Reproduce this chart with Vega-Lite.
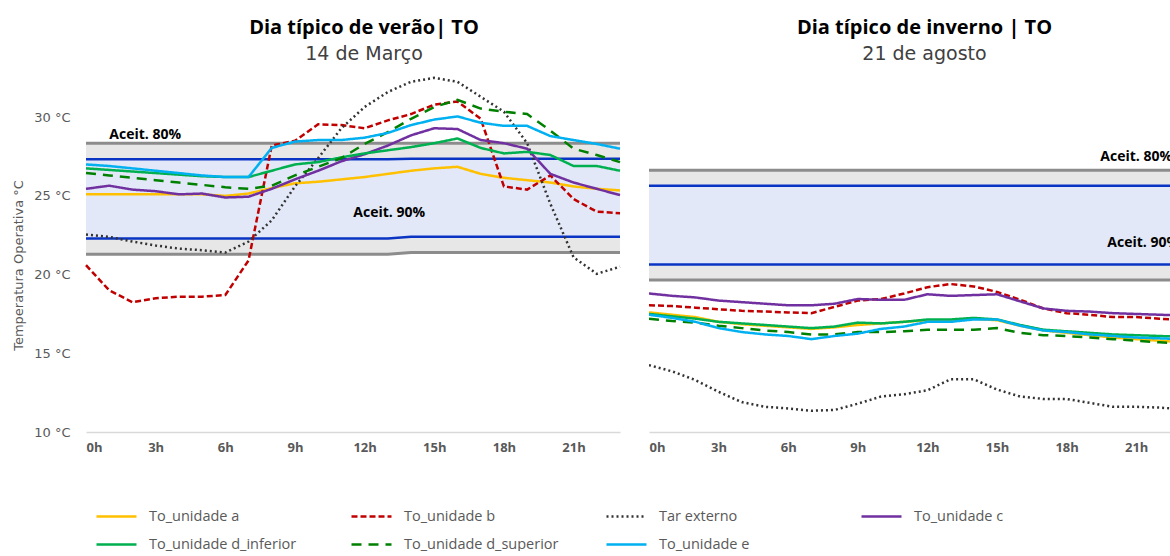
{
  "$schema": "https://vega.github.io/schema/vega-lite/v6.json",
  "background": "white",
  "padding": {"left": 12, "top": 18, "right": 0, "bottom": 0},
  "spacing": 23,
  "datasets": {
    "series": [
      {"p":"v","h":0,"a":25.1,"b":20.6,"tar":22.55,"c":25.45,"di":26.75,"ds":26.45,"e":27.0},
      {"p":"v","h":1,"a":25.1,"b":19.0,"tar":22.4,"c":25.65,"di":26.65,"ds":26.3,"e":26.9},
      {"p":"v","h":2,"a":25.1,"b":18.25,"tar":22.1,"c":25.4,"di":26.55,"ds":26.15,"e":26.75},
      {"p":"v","h":3,"a":25.1,"b":18.5,"tar":21.85,"c":25.3,"di":26.45,"ds":26.0,"e":26.6},
      {"p":"v","h":4,"a":25.1,"b":18.6,"tar":21.65,"c":25.1,"di":26.35,"ds":25.85,"e":26.45},
      {"p":"v","h":5,"a":25.1,"b":18.6,"tar":21.55,"c":25.15,"di":26.25,"ds":25.7,"e":26.3},
      {"p":"v","h":6,"a":25.0,"b":18.7,"tar":21.4,"c":24.9,"di":26.2,"ds":25.55,"e":26.2},
      {"p":"v","h":7,"a":25.15,"b":20.9,"tar":22.1,"c":24.95,"di":26.2,"ds":25.45,"e":26.2},
      {"p":"v","h":8,"a":25.5,"b":28.2,"tar":23.45,"c":25.45,"di":26.6,"ds":25.65,"e":28.05},
      {"p":"v","h":9,"a":25.8,"b":28.5,"tar":25.6,"c":26.05,"di":27.0,"ds":26.3,"e":28.45},
      {"p":"v","h":10,"a":25.9,"b":29.55,"tar":27.4,"c":26.6,"di":27.15,"ds":26.85,"e":28.55},
      {"p":"v","h":11,"a":26.05,"b":29.5,"tar":29.3,"c":27.2,"di":27.45,"ds":27.4,"e":28.55},
      {"p":"v","h":12,"a":26.2,"b":29.3,"tar":30.65,"c":27.65,"di":27.7,"ds":28.3,"e":28.7},
      {"p":"v","h":13,"a":26.4,"b":29.8,"tar":31.6,"c":28.2,"di":27.9,"ds":29.05,"e":29.0},
      {"p":"v","h":14,"a":26.6,"b":30.2,"tar":32.25,"c":28.85,"di":28.1,"ds":29.9,"e":29.5},
      {"p":"v","h":15,"a":26.75,"b":30.8,"tar":32.5,"c":29.3,"di":28.35,"ds":30.65,"e":29.85},
      {"p":"v","h":16,"a":26.85,"b":31.0,"tar":32.25,"c":29.25,"di":28.65,"ds":31.1,"e":30.05},
      {"p":"v","h":17,"a":26.4,"b":29.9,"tar":31.3,"c":28.55,"di":28.05,"ds":30.55,"e":29.65},
      {"p":"v","h":18,"a":26.15,"b":25.6,"tar":30.35,"c":28.35,"di":27.7,"ds":30.35,"e":29.45},
      {"p":"v","h":19,"a":26.0,"b":25.4,"tar":28.35,"c":28.0,"di":27.8,"ds":30.2,"e":29.45},
      {"p":"v","h":20,"a":25.85,"b":26.3,"tar":24.5,"c":26.4,"di":27.6,"ds":29.15,"e":28.8},
      {"p":"v","h":21,"a":25.6,"b":24.8,"tar":21.1,"c":25.85,"di":26.9,"ds":28.0,"e":28.55},
      {"p":"v","h":22,"a":25.45,"b":24.0,"tar":20.05,"c":25.45,"di":26.9,"ds":27.6,"e":28.3},
      {"p":"v","h":23,"a":25.35,"b":23.9,"tar":20.5,"c":25.05,"di":26.6,"ds":27.15,"e":28.0},
      {"p":"i","h":0,"a":17.6,"b":18.05,"tar":14.25,"c":18.8,"di":17.5,"ds":17.2,"e":17.45},
      {"p":"i","h":1,"a":17.45,"b":18.0,"tar":13.85,"c":18.65,"di":17.35,"ds":17.05,"e":17.25},
      {"p":"i","h":2,"a":17.3,"b":17.9,"tar":13.3,"c":18.55,"di":17.2,"ds":16.95,"e":17.0},
      {"p":"i","h":3,"a":17.0,"b":17.8,"tar":12.55,"c":18.35,"di":17.0,"ds":16.75,"e":16.6},
      {"p":"i","h":4,"a":16.85,"b":17.7,"tar":11.9,"c":18.25,"di":16.9,"ds":16.6,"e":16.35},
      {"p":"i","h":5,"a":16.75,"b":17.65,"tar":11.6,"c":18.15,"di":16.8,"ds":16.45,"e":16.2},
      {"p":"i","h":6,"a":16.65,"b":17.6,"tar":11.5,"c":18.05,"di":16.7,"ds":16.35,"e":16.1},
      {"p":"i","h":7,"a":16.55,"b":17.55,"tar":11.35,"c":18.05,"di":16.6,"ds":16.2,"e":15.9},
      {"p":"i","h":8,"a":16.65,"b":17.95,"tar":11.4,"c":18.15,"di":16.7,"ds":16.2,"e":16.1},
      {"p":"i","h":9,"a":16.8,"b":18.35,"tar":11.8,"c":18.45,"di":16.95,"ds":16.35,"e":16.25},
      {"p":"i","h":10,"a":16.9,"b":18.45,"tar":12.25,"c":18.4,"di":16.9,"ds":16.35,"e":16.55},
      {"p":"i","h":11,"a":17.0,"b":18.8,"tar":12.4,"c":18.4,"di":17.0,"ds":16.4,"e":16.7},
      {"p":"i","h":12,"a":17.1,"b":19.2,"tar":12.65,"c":18.75,"di":17.15,"ds":16.5,"e":17.0},
      {"p":"i","h":13,"a":17.1,"b":19.4,"tar":13.35,"c":18.65,"di":17.15,"ds":16.5,"e":17.0},
      {"p":"i","h":14,"a":17.2,"b":19.25,"tar":13.35,"c":18.7,"di":17.25,"ds":16.5,"e":17.15},
      {"p":"i","h":15,"a":17.1,"b":18.9,"tar":12.7,"c":18.75,"di":17.15,"ds":16.6,"e":17.15},
      {"p":"i","h":16,"a":16.75,"b":18.4,"tar":12.25,"c":18.3,"di":16.8,"ds":16.3,"e":16.75},
      {"p":"i","h":17,"a":16.45,"b":17.85,"tar":12.1,"c":17.85,"di":16.5,"ds":16.15,"e":16.45},
      {"p":"i","h":18,"a":16.3,"b":17.55,"tar":12.1,"c":17.7,"di":16.4,"ds":16.1,"e":16.35},
      {"p":"i","h":19,"a":16.15,"b":17.45,"tar":11.85,"c":17.65,"di":16.3,"ds":16.0,"e":16.2},
      {"p":"i","h":20,"a":16.0,"b":17.3,"tar":11.6,"c":17.55,"di":16.2,"ds":15.9,"e":16.1},
      {"p":"i","h":21,"a":15.9,"b":17.3,"tar":11.6,"c":17.5,"di":16.15,"ds":15.8,"e":16.0},
      {"p":"i","h":22,"a":15.8,"b":17.2,"tar":11.55,"c":17.45,"di":16.1,"ds":15.7,"e":15.95},
      {"p":"i","h":23,"a":15.7,"b":17.1,"tar":11.45,"c":17.4,"di":16.05,"ds":15.6,"e":15.9}
    ],
    "bands": [
      {"p":"v","h":0,"glo":21.3,"ghi":28.35,"blo":22.3,"bhi":27.33},
      {"p":"v","h":13,"glo":21.3,"ghi":28.35,"blo":22.3,"bhi":27.33},
      {"p":"v","h":14,"glo":21.4,"ghi":28.35,"blo":22.4,"bhi":27.36},
      {"p":"v","h":23,"glo":21.4,"ghi":28.35,"blo":22.4,"bhi":27.36},
      {"p":"i","h":0,"glo":19.65,"ghi":26.63,"blo":20.65,"bhi":25.64},
      {"p":"i","h":23,"glo":19.65,"ghi":26.63,"blo":20.65,"bhi":25.64}
    ],
    "labels": [
      {"p":"v","h":2.55,"t":28.86,"txt":"Aceit. 80%"},
      {"p":"v","h":13.06,"t":23.9,"txt":"Aceit. 90%"},
      {"p":"i","h":21.0,"t":27.46,"txt":"Aceit. 80%"},
      {"p":"i","h":21.3,"t":22.0,"txt":"Aceit. 90%"}
    ]
  },
  "hconcat": [
    {
      "width": 534,
      "height": 362,
      "title": {"text": "Dia típico de verão| TO", "subtitle": "14 de Março", "anchor": "middle", "frame": "group", "dx": 11, "offset": 6},
      "encoding": {
        "x": {"field": "h", "type": "quantitative", "scale": {"domain": [0, 23], "nice": false, "zero": false},
              "axis": {"values": [0,3,6,9,12,15,18,21], "labelExpr": "datum.value + 'h'", "title": null}}
      },
      "layer": [
        {"data": {"name": "bands"}, "transform": [{"filter": "datum.p == 'v'"}],
         "mark": {"type": "area", "color": "#e7e7e7", "opacity": 1},
         "encoding": {"y": {"field": "glo", "type": "quantitative", "scale": {"domain": [10, 33], "nice": false, "zero": false},
                            "axis": {"values": [10,15,20,25,30], "labelExpr": "datum.value + ' °C'", "title": "Temperatura Operativa °C", "titleY": 195}},
                      "y2": {"field": "ghi"}}},
        {"data": {"name": "bands"}, "transform": [{"filter": "datum.p == 'v'"}],
         "mark": {"type": "area", "color": "#e2e8f7", "opacity": 1},
         "encoding": {"y": {"field": "blo", "type": "quantitative", "scale": {"domain": [10, 33], "nice": false, "zero": false},
                            "axis": {"values": [10,15,20,25,30], "labelExpr": "datum.value + ' °C'", "title": "Temperatura Operativa °C", "titleY": 195}},
                      "y2": {"field": "bhi"}}},
        {"data": {"name": "bands"}, "transform": [{"filter": "datum.p == 'v'"}, {"fold": ["glo", "ghi"], "as": ["k", "t"]}],
         "mark": {"type": "line", "color": "#8c8c8c", "strokeWidth": 3},
         "encoding": {"detail": {"field": "k"},
                      "y": {"field": "t", "type": "quantitative", "scale": {"domain": [10, 33], "nice": false, "zero": false},
                            "axis": {"values": [10,15,20,25,30], "labelExpr": "datum.value + ' °C'", "title": "Temperatura Operativa °C", "titleY": 195}}}},
        {"data": {"name": "bands"}, "transform": [{"filter": "datum.p == 'v'"}, {"fold": ["blo", "bhi"], "as": ["k", "t"]}],
         "mark": {"type": "line", "color": "#0a34c4", "strokeWidth": 2.5},
         "encoding": {"detail": {"field": "k"},
                      "y": {"field": "t", "type": "quantitative", "scale": {"domain": [10, 33], "nice": false, "zero": false},
                            "axis": {"values": [10,15,20,25,30], "labelExpr": "datum.value + ' °C'", "title": "Temperatura Operativa °C", "titleY": 195}}}},
        {"data": {"name": "series"}, "transform": [{"filter": "datum.p == 'v'"}, {"fold": ["a", "b", "tar", "c", "di", "ds", "e"], "as": ["k", "t"]}],
         "mark": {"type": "line", "strokeWidth": 2.5},
         "encoding": {
           "y": {"field": "t", "type": "quantitative", "scale": {"domain": [10, 33], "nice": false, "zero": false},
                 "axis": {"values": [10,15,20,25,30], "labelExpr": "datum.value + ' °C'", "title": "Temperatura Operativa °C", "titleY": 195}},
           "color": {"field": "k", "type": "nominal", "scale": {"domain": ["a","b","tar","c","di","ds","e"], "range": ["#ffc000","#c00000","#333333","#7030a0","#00b050","#008000","#00b0f0"]},
                     "legend": {"title": null, "labelExpr": "{'a':'To_unidade a','b':'To_unidade b','tar':'Tar externo','c':'To_unidade c','di':'To_unidade d_inferior','ds':'To_unidade d_superior','e':'To_unidade e'}[datum.label]"}},
           "strokeDash": {"field": "k", "type": "nominal", "scale": {"domain": ["a","b","tar","c","di","ds","e"], "range": [[1,0],[6,3],[2,3],[1,0],[1,0],[10,7],[1,0]]},
                     "legend": {"title": null, "labelExpr": "{'a':'To_unidade a','b':'To_unidade b','tar':'Tar externo','c':'To_unidade c','di':'To_unidade d_inferior','ds':'To_unidade d_superior','e':'To_unidade e'}[datum.label]"}}
         }},
        {"data": {"name": "labels"}, "transform": [{"filter": "datum.p == 'v'"}],
         "mark": {"type": "text", "fontWeight": "bold", "fontSize": 14, "color": "#000000", "font": "Open Sans"},
         "encoding": {"text": {"field": "txt"},
                      "y": {"field": "t", "type": "quantitative", "scale": {"domain": [10, 33], "nice": false, "zero": false},
                            "axis": {"values": [10,15,20,25,30], "labelExpr": "datum.value + ' °C'", "title": "Temperatura Operativa °C", "titleY": 195}}}}
      ]
    },
    {
      "width": 525,
      "height": 362,
      "title": {"text": "Dia típico de inverno | TO", "subtitle": "21 de agosto", "anchor": "middle", "frame": "group", "dx": 13, "offset": 6},
      "encoding": {
        "x": {"field": "h", "type": "quantitative", "scale": {"domain": [0, 22.63], "nice": false, "zero": false},
              "axis": {"values": [0,3,6,9,12,15,18,21], "labelExpr": "datum.value + 'h'", "title": null}}
      },
      "layer": [
        {"data": {"name": "bands"}, "transform": [{"filter": "datum.p == 'i'"}],
         "mark": {"type": "area", "color": "#e7e7e7", "opacity": 1, "clip": true},
         "encoding": {"y": {"field": "glo", "type": "quantitative", "scale": {"domain": [10, 33], "nice": false, "zero": false}, "axis": null},
                      "y2": {"field": "ghi"}}},
        {"data": {"name": "bands"}, "transform": [{"filter": "datum.p == 'i'"}],
         "mark": {"type": "area", "color": "#e2e8f7", "opacity": 1, "clip": true},
         "encoding": {"y": {"field": "blo", "type": "quantitative", "scale": {"domain": [10, 33], "nice": false, "zero": false}, "axis": null},
                      "y2": {"field": "bhi"}}},
        {"data": {"name": "bands"}, "transform": [{"filter": "datum.p == 'i'"}, {"fold": ["glo", "ghi"], "as": ["k", "t"]}],
         "mark": {"type": "line", "color": "#8c8c8c", "strokeWidth": 3, "clip": true},
         "encoding": {"detail": {"field": "k"},
                      "y": {"field": "t", "type": "quantitative", "scale": {"domain": [10, 33], "nice": false, "zero": false}, "axis": null}}},
        {"data": {"name": "bands"}, "transform": [{"filter": "datum.p == 'i'"}, {"fold": ["blo", "bhi"], "as": ["k", "t"]}],
         "mark": {"type": "line", "color": "#0a34c4", "strokeWidth": 2.5, "clip": true},
         "encoding": {"detail": {"field": "k"},
                      "y": {"field": "t", "type": "quantitative", "scale": {"domain": [10, 33], "nice": false, "zero": false}, "axis": null}}},
        {"data": {"name": "series"}, "transform": [{"filter": "datum.p == 'i'"}, {"fold": ["a", "b", "tar", "c", "di", "ds", "e"], "as": ["k", "t"]}],
         "mark": {"type": "line", "strokeWidth": 2.5, "clip": true},
         "encoding": {
           "y": {"field": "t", "type": "quantitative", "scale": {"domain": [10, 33], "nice": false, "zero": false}, "axis": null},
           "color": {"field": "k", "type": "nominal", "scale": {"domain": ["a","b","tar","c","di","ds","e"], "range": ["#ffc000","#c00000","#333333","#7030a0","#00b050","#008000","#00b0f0"]},
                     "legend": {"title": null, "labelExpr": "{'a':'To_unidade a','b':'To_unidade b','tar':'Tar externo','c':'To_unidade c','di':'To_unidade d_inferior','ds':'To_unidade d_superior','e':'To_unidade e'}[datum.label]"}},
           "strokeDash": {"field": "k", "type": "nominal", "scale": {"domain": ["a","b","tar","c","di","ds","e"], "range": [[1,0],[6,3],[2,3],[1,0],[1,0],[10,7],[1,0]]},
                     "legend": {"title": null, "labelExpr": "{'a':'To_unidade a','b':'To_unidade b','tar':'Tar externo','c':'To_unidade c','di':'To_unidade d_inferior','ds':'To_unidade d_superior','e':'To_unidade e'}[datum.label]"}}
         }},
        {"data": {"name": "labels"}, "transform": [{"filter": "datum.p == 'i'"}],
         "mark": {"type": "text", "fontWeight": "bold", "fontSize": 14, "color": "#000000", "font": "Open Sans", "clip": true},
         "encoding": {"text": {"field": "txt"},
                      "y": {"field": "t", "type": "quantitative", "scale": {"domain": [10, 33], "nice": false, "zero": false}, "axis": null}}}
      ]
    }
  ],
  "config": {
    "view": {"stroke": null},
    "font": "Open Sans",
    "title": {"fontSize": 20, "fontWeight": "bold", "color": "#000000", "font": "Open Sans",
              "subtitleFontSize": 19, "subtitleColor": "#404040", "subtitleFont": "DejaVu Sans", "subtitlePadding": 7},
    "axis": {"grid": false, "ticks": false, "labelColor": "#595959", "titleColor": "#595959", "labelFontSize": 13},
    "axisX": {"domainColor": "#d9d9d9", "domainWidth": 1.5, "labelFontWeight": "bold", "labelPadding": 9, "labelFont": "Open Sans"},
    "axisY": {"domain": false, "labelPadding": 16, "labelFont": "DejaVu Sans", "titleFont": "DejaVu Sans", "titleFontSize": 13, "titleFontWeight": "normal", "titlePadding": 8},
    "legend": {"orient": "none", "legendX": 9, "legendY": 425, "direction": "horizontal", "columns": 4,
               "symbolType": "stroke", "symbolSize": 1600, "symbolStrokeWidth": 2.5,
               "labelFontSize": 14.5, "labelColor": "#595959", "labelFont": "Open Sans",
               "gridAlign": "all", "columnPadding": 42, "rowPadding": -13, "labelOffset": 11}
  }
}
